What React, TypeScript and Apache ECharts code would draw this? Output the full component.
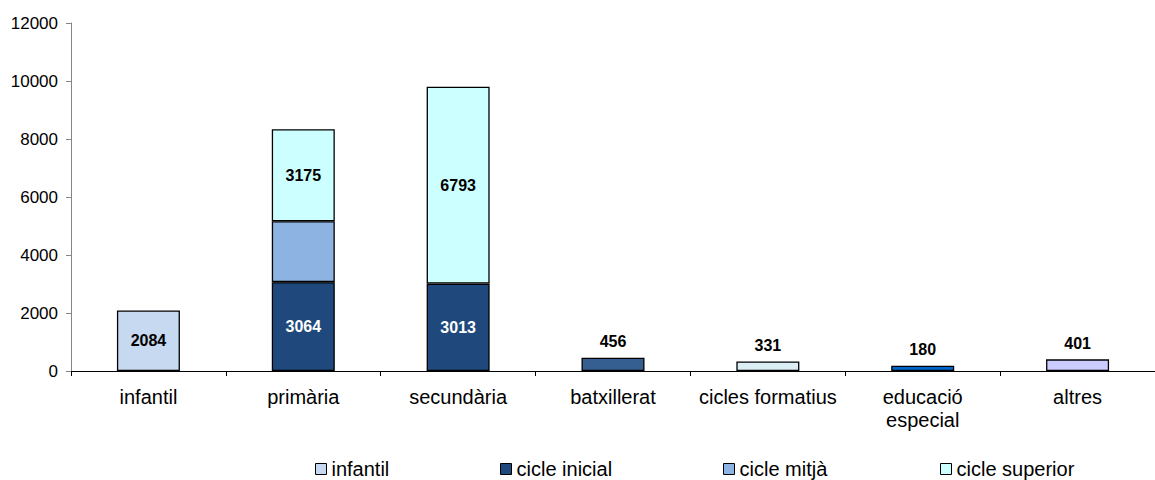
import React, { useEffect, useRef } from "react";
import * as echarts from "echarts";

const categories = ["infantil", "primària", "secundària", "batxillerat", "cicles formatius", "educació\nespecial", "altres"];
const infantil = [2084, "-", "-", "-", "-", "-", "-"];
const cicleInicial = ["-", 3064, 3013, "-", "-", "-", "-"];
const cicleMitja = ["-", 2100, "-", "-", "-", "-", "-"];
const cicleSuperior = ["-", 3175, 6793, "-", "-", "-", "-"];
const altresEstudis = ["-", "-", "-", 456, 331, 180, 401];
const yTicks = { min: 0, max: 12000, interval: 2000 };

const altresColors = ["", "", "", "#365f91", "#dbeef4", "#0066cc", "#ccccff"];
const FONT = "'Liberation Sans', Arial, sans-serif";

export default function App() {
  const ref = useRef<HTMLDivElement>(null);
  useEffect(() => {
    if (!ref.current) return;
    const chart = echarts.init(ref.current, undefined, { renderer: "svg" });
    const border = { borderColor: "#000", borderWidth: 1.3 };
    const lbl = (color: string) => ({
      show: true,
      position: "inside",
      color,
      fontWeight: "bold",
      fontSize: 16,
      fontFamily: FONT,
    });
    const legendBase = (name: string, left: number) => ({
      data: [name],
      left,
      top: 459,
      padding: 0,
      itemWidth: 11,
      itemHeight: 11,
      icon: "rect",
      itemStyle: { borderColor: "#000", borderWidth: 1 },
      textStyle: { fontSize: 20, color: "#000", fontFamily: FONT },
      selectedMode: false,
    });
    chart.setOption({
      animation: false,
      backgroundColor: "#fff",
      grid: { left: 71, top: 23, width: 1092, height: 348 },
      legend: [
        legendBase("infantil", 315),
        legendBase("cicle inicial", 500),
        legendBase("cicle mitjà", 723),
        legendBase("cicle superior", 940),
      ],
      xAxis: {
        type: "category",
        data: categories,
        axisLine: { lineStyle: { color: "#000", width: 1 } },
        axisTick: { show: true, length: 5, lineStyle: { color: "#000" } },
        axisLabel: { interval: 0, fontSize: 20, color: "#000", fontFamily: FONT, margin: 14, lineHeight: 23 },
      },
      yAxis: {
        type: "value",
        min: yTicks.min,
        max: yTicks.max,
        interval: yTicks.interval,
        axisLine: { show: true, lineStyle: { color: "#868686" } },
        axisTick: { show: true, length: 5, lineStyle: { color: "#868686" } },
        splitLine: { show: false },
        axisLabel: { fontSize: 17, color: "#000", fontFamily: FONT, margin: 13, formatter: (v: number) => String(v) },
      },
      series: [
        {
          name: "infantil", type: "bar", stack: "total", barWidth: 63, data: infantil,
          itemStyle: { color: "#c6d9f1", ...border }, label: lbl("#000"),
        },
        {
          name: "cicle inicial", type: "bar", stack: "total", barWidth: 63, data: cicleInicial,
          itemStyle: { color: "#1f497d", ...border }, label: lbl("#fff"),
        },
        {
          name: "cicle mitjà", type: "bar", stack: "total", barWidth: 63, data: cicleMitja,
          itemStyle: { color: "#8db3e2", ...border }, label: { show: false },
        },
        {
          name: "cicle superior", type: "bar", stack: "total", barWidth: 63, data: cicleSuperior,
          itemStyle: { color: "#ccffff", ...border }, label: lbl("#000"),
        },
        {
          name: "altres estudis", type: "bar", stack: "total", barWidth: 63,
          data: altresEstudis.map((v, i) => ({ value: v, itemStyle: { color: altresColors[i] || "#ccc" } })),
          itemStyle: { ...border },
          label: { ...lbl("#000"), position: "top", distance: 8 },
        },
      ],
    });
    return () => chart.dispose();
  }, []);
  return <div ref={ref} style={{ width: 1155, height: 480, position: "fixed", left: 0, top: 0 }} />;
}
